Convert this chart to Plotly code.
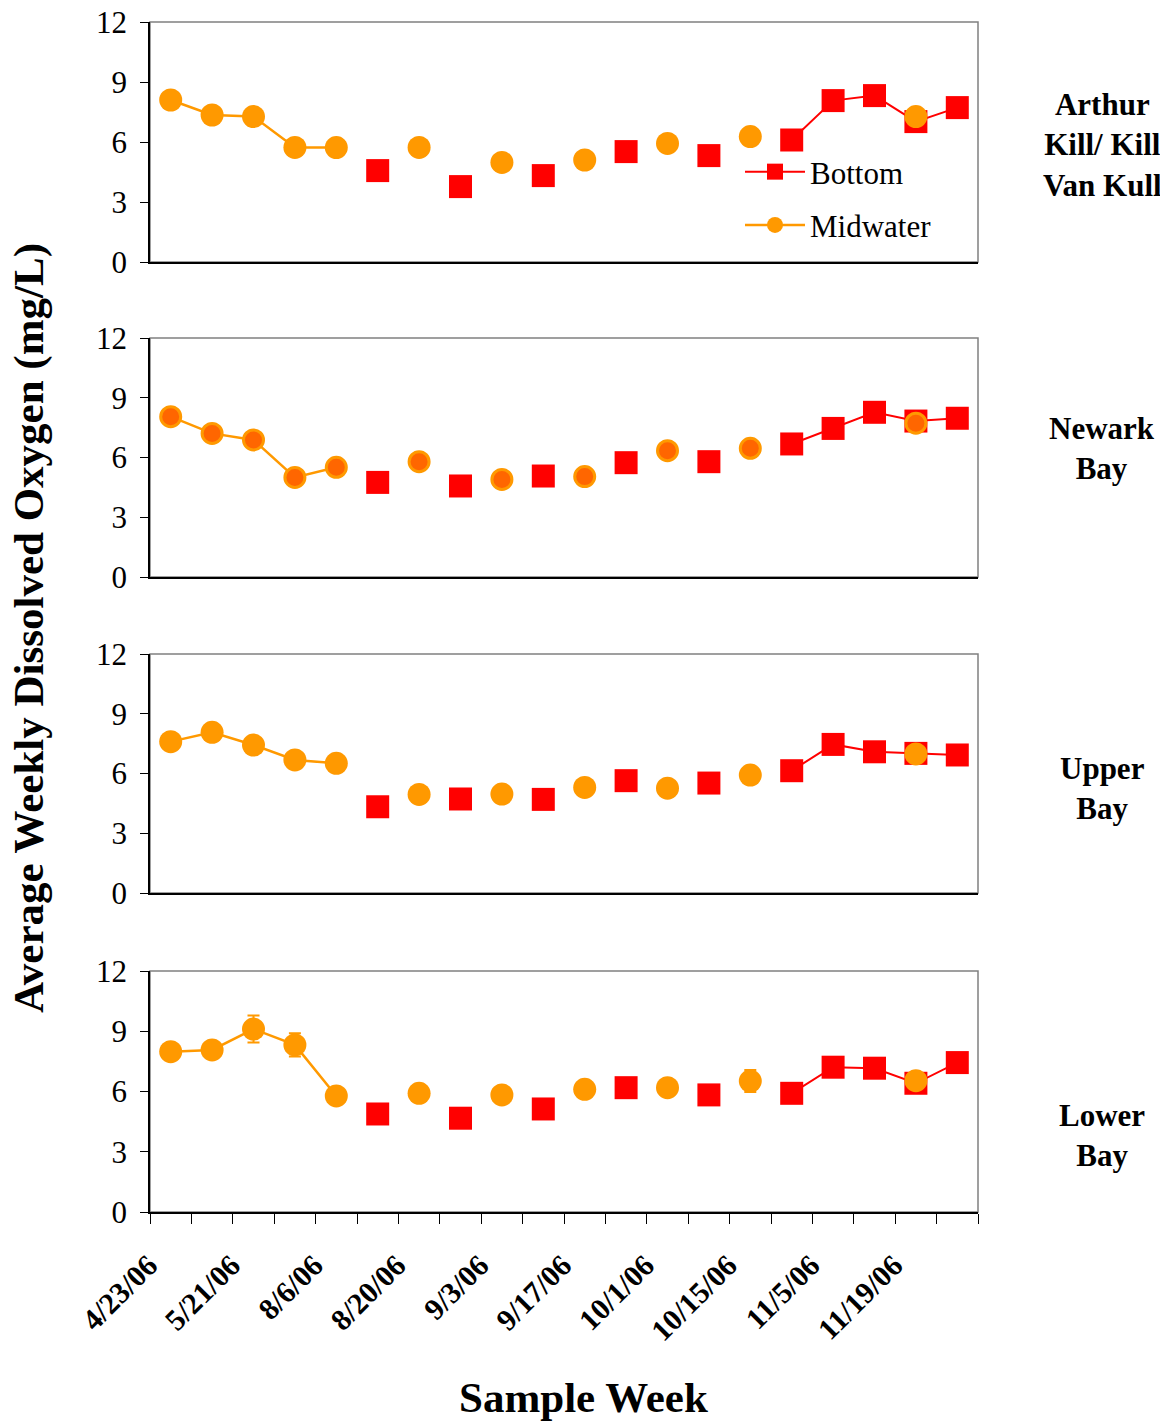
#weekly average dissolved oxygen, bottom vs midwater, four harbor regions
import plotly.graph_objects as go
from plotly.subplots import make_subplots

weeks = list(range(20))
tick_pos = [0, 2, 4, 6, 8, 10, 12, 14, 16, 18]
tick_labels = ["4/23/06", "5/21/06", "8/6/06", "8/20/06", "9/3/06",
               "9/17/06", "10/1/06", "10/15/06", "11/5/06", "11/19/06"]

regions = ["Arthur<br>Kill/ Kill<br>Van Kull", "Newark<br>Bay", "Upper<br>Bay", "Lower<br>Bay"]

ak_bottom = [None, None, None, None, None, 4.57, None, 3.77, None, 4.32,
             None, 5.52, None, 5.32, None, 6.10, 8.07, 8.32, 7.02, 7.72]
ak_mid = [8.10, 7.35, 7.27, 5.73, 5.72, None, 5.73, None, 4.98, None,
          5.10, None, 5.93, None, 6.27, None, None, None, 7.27, None]

nb_bottom = [None, None, None, None, None, 4.75, None, 4.57, None, 5.07,
             None, 5.74, None, 5.79, None, 6.68, 7.46, 8.27, 7.83, 7.97]
nb_mid = [8.05, 7.21, 6.88, 5.00, 5.51, None, 5.79, None, 4.90, None,
          5.04, None, 6.34, None, 6.46, None, None, None, 7.72, None]

ub_bottom = [None, None, None, None, None, 4.33, None, 4.72, None, 4.70,
             None, 5.64, None, 5.52, None, 6.14, 7.46, 7.09, 7.01, 6.93]
ub_mid = [7.60, 8.07, 7.43, 6.68, 6.51, None, 4.95, None, 4.97, None,
          5.30, None, 5.26, None, 5.92, None, None, None, 6.98, None]

lb_bottom = [None, None, None, None, None, 4.88, None, 4.67, None, 5.13,
             None, 6.19, None, 5.83, None, 5.91, 7.21, 7.16, 6.41, 7.44]
lb_mid = [7.98, 8.07, 9.11, 8.32, 5.78, None, 5.91, None, 5.83, None,
          6.11, None, 6.19, None, 6.52, None, None, None, 6.54, None]
lb_mid_err = [0, 0, 0.67, 0.58, 0, 0, 0, 0, 0, 0,
              0, 0, 0, 0, 0.55, 0, 0, 0, 0, 0]

bottoms = [ak_bottom, nb_bottom, ub_bottom, lb_bottom]
mids = [ak_mid, nb_mid, ub_mid, lb_mid]

RED = "#FF0000"
ORANGE = "#FF9900"
DARKOR = "#FF6600"
FONT = "Liberation Serif, Times New Roman, serif"

# pixel layout of the original (page body adds an 8px offset)
W, H = 1168, 1423
OFF = 8
L, R, T, B = 150, 978, 22, 1212
panels_px = [(22, 262), (338, 577), (654, 893), (971, 1212)]
label_px = [145, 449, 789, 1135]

def py(p):
    return (B - p) / (B - T)

def px(p):
    return (p - L) / (R - L)

fig = make_subplots(rows=4, cols=1)

for i in range(4):
    r = i + 1
    fig.add_trace(go.Scatter(
        x=weeks, y=bottoms[i], name="Bottom", mode="lines+markers",
        line=dict(color=RED, width=2),
        marker=dict(symbol="square", size=23, color=RED),
        showlegend=(i == 0), legendgroup="b"
    ), row=r, col=1)

    mk = dict(symbol="circle", size=23, color=ORANGE)
    if i == 1:
        mk = dict(symbol="circle", size=20, color=DARKOR, line=dict(color=ORANGE, width=3))
    err = None
    if i == 3:
        err = dict(type="data", array=lb_mid_err, color=ORANGE, thickness=2, width=6)
    fig.add_trace(go.Scatter(
        x=weeks, y=mids[i], name="Midwater", mode="lines+markers",
        line=dict(color=ORANGE, width=2.5),
        marker=mk, error_y=err,
        showlegend=(i == 0), legendgroup="m"
    ), row=r, col=1)

for i, (top, bot) in enumerate(panels_px):
    r = i + 1
    fig.update_yaxes(domain=[py(bot), py(top)], range=[0, 12], tickvals=[0, 3, 6, 9, 12],
                     ticks="outside", ticklen=8, tickcolor="black", showline=True,
                     linecolor="black", linewidth=1.5, showgrid=False, zeroline=False,
                     automargin=False, ticklabelstandoff=7, ticklabeloverflow="allow",
                     tickfont=dict(family=FONT, size=31, color="black"), row=r, col=1)
    fig.update_xaxes(range=[-0.5, 19.5], showline=True, linecolor="black", linewidth=1.5,
                     showgrid=False, zeroline=False, showticklabels=False, ticks="",
                     automargin=False, row=r, col=1)
    sfx = "" if r == 1 else str(r)
    fig.add_shape(type="rect", xref="x%s domain" % sfx, yref="y%s domain" % sfx,
                  x0=0, x1=1, y0=0, y1=1, line=dict(color="#808080", width=1.5),
                  layer="below")
    fig.add_annotation(text="<b>%s</b>" % regions[i], xref="paper", yref="paper",
                       x=px(1102), y=py(label_px[i]), showarrow=False,
                       xanchor="center", yanchor="middle",
                       font=dict(family=FONT, size=31, color="black"))

fig.update_xaxes(showticklabels=True, tickmode="array", tickvals=tick_pos,
                 ticktext=tick_labels, tickangle=-45, ticks="",
                 ticklabelshift=-22, ticklabelstandoff=22, ticklabeloverflow="allow",
                 tickfont=dict(family=FONT, size=30, color="black", weight="bold"),
                 minor=dict(ticks="outside", tickmode="linear", tick0=-0.5, dtick=1,
                            ticklen=10, tickcolor="black", showgrid=False),
                 row=4, col=1)

fig.add_annotation(text="<b>Average Weekly Dissolved Oxygen (mg/L)</b>", textangle=-90,
                   xref="paper", yref="paper", x=px(29), y=py(628), showarrow=False,
                   xanchor="center", yanchor="middle",
                   font=dict(family=FONT, size=43, color="black"))
fig.add_annotation(text="<b>Sample Week</b>", xref="paper", yref="paper",
                   x=px(583), y=py(1398), showarrow=False,
                   xanchor="center", yanchor="middle",
                   font=dict(family=FONT, size=43, color="black"))

fig.update_layout(
    width=W - OFF, height=H - OFF,
    margin=dict(l=L - OFF, r=W - R, t=T - OFF, b=H - B),
    plot_bgcolor="white", paper_bgcolor="white",
    font=dict(family=FONT, color="black"),
    legend=dict(x=px(740), y=py(145), xanchor="left", yanchor="top",
                font=dict(family=FONT, size=31, color="black"),
                bgcolor="rgba(0,0,0,0)", itemwidth=60, tracegroupgap=10),
)

fig.write_html("out.html")
